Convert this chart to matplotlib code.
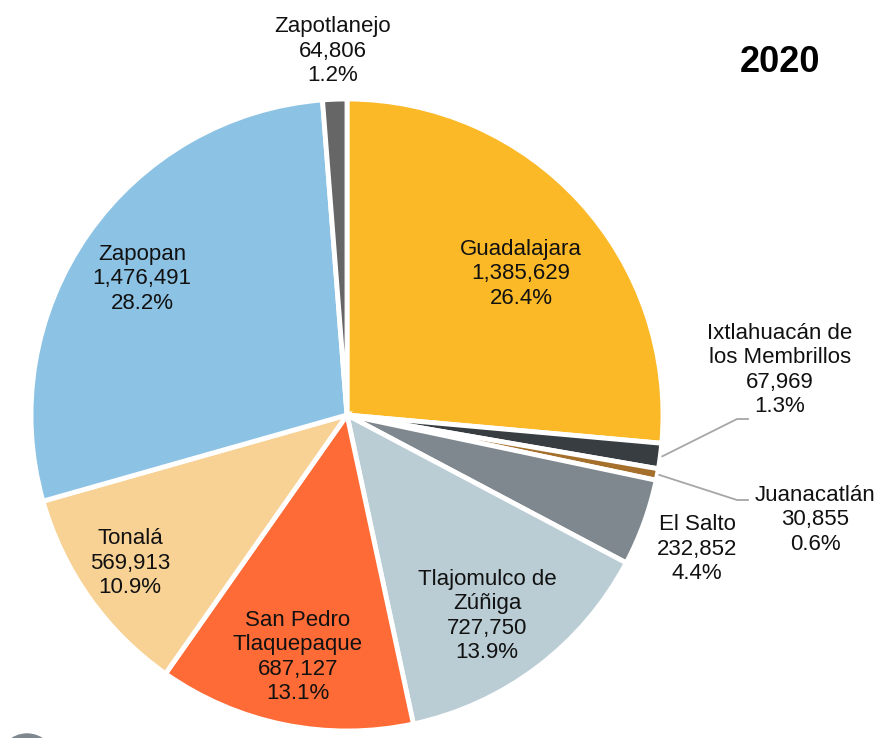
import numpy as np
import matplotlib.pyplot as plt
from matplotlib.patches import Circle

plt.rcParams['font.family'] = ['Liberation Sans', 'DejaVu Sans']

names = ["Guadalajara", "Ixtlahuacán de\nlos Membrillos", "Juanacatlán", "El Salto",
         "Tlajomulco de\nZúñiga", "San Pedro\nTlaquepaque", "Tonalá", "Zapopan", "Zapotlanejo"]
population = [1385629, 67969, 30855, 232852, 727750, 687127, 569913, 1476491, 64806]
colors = ["#FBB927", "#383D42", "#A5702C", "#7E888E", "#BACDD5",
          "#FF6B36", "#F8D295", "#8CC2E4", "#666666"]

# label centres in pixel coordinates (from top-left)
label_pos = [(521, 274), (780, 370), (815, 520), (697, 549), (487, 616),
             (298, 657), (130, 563), (142, 279), (333, 51)]
# leader line elbows for the small outside labels
leaders = {1: (737, 419), 2: (737, 500)}

W, H = 895, 738
cx, cy, R = 347, 415, 316

fig = plt.figure(figsize=(W / 100, H / 100), dpi=100)
ax = fig.add_axes([0, 0, 1, 1])

ax.pie(population, colors=colors, startangle=90, counterclock=False,
       center=(cx, H - cy), radius=R, frame=True,
       wedgeprops=dict(edgecolor='white', linewidth=3.5))
ax.set_xlim(0, W)
ax.set_ylim(0, H)
ax.set_aspect('equal')
ax.axis('off')

total = sum(population)
cum = 0
for i, v in enumerate(population):
    mid = np.radians(90 - 360 * (cum + v / 2) / total)
    cum += v
    pct = 100 * v / total
    txt = f"{names[i]}\n{v:,}\n{pct:.1f}%"
    lx, ly = label_pos[i]
    ax.text(lx, H - ly, txt, ha='center', va='center', fontsize=16,
            linespacing=1.2, color='#111111')
    if i in leaders:
        ex, ey = leaders[i]
        sx = cx + (R + 2) * np.cos(mid)
        sy = (H - cy) + (R + 2) * np.sin(mid)
        ax.plot([sx, ex, ex + 11], [sy, H - ey, H - ey], color='#A6A6A6', lw=1.3)

ax.text(780, H - 62, "2020", ha='center', va='center', fontsize=26, fontweight='bold')

ax.add_patch(Circle((27, H - 762), 28, color='#7E888E'))

fig.savefig("out.png", dpi=100)
